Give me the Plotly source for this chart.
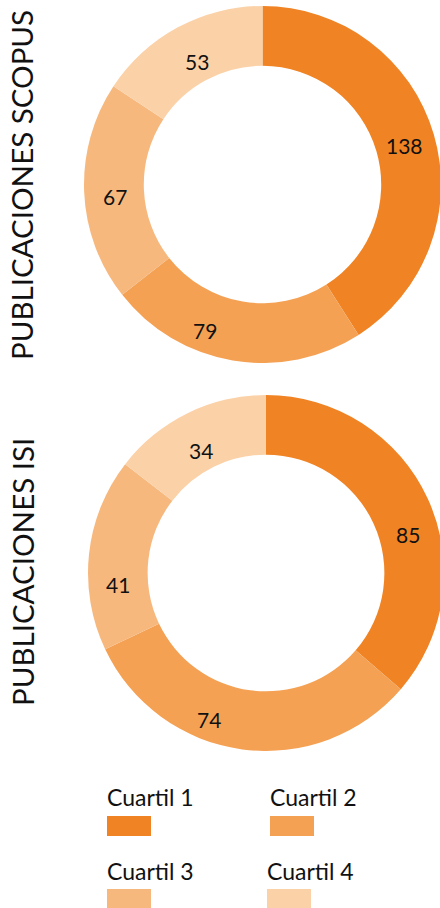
import math
import plotly.graph_objects as go

categories = ["Cuartil 1", "Cuartil 2", "Cuartil 3", "Cuartil 4"]
scopus_values = [138, 79, 67, 53]
isi_values = [85, 74, 41, 34]
chart_titles = ["PUBLICACIONES SCOPUS", "PUBLICACIONES ISI"]
colors = ["#F08323", "#F4A154", "#F7B87E", "#FBD1A8"]

# figure is slightly wider than the 440px window so the second ring is clipped at the right, as in the original
W, H = 446, 908
FONT = "Lato, 'Open Sans', sans-serif"
TXT = "#111111"

# fixed label placement (angle clockwise from 12 o'clock, radius in px), as in the original template
LABEL_ANGLES = [74.8, 201.3, 265.5, 332.0]
LABEL_RADII = [147, 157, 148, 139]

fig = go.Figure()
annotations = []

def pie(values, x0, x1, ytop, ybot):
    fig.add_trace(go.Pie(
        labels=categories, values=values, sort=False, direction="clockwise",
        rotation=0, hole=0.665,
        marker=dict(colors=colors, line=dict(width=0)),
        textinfo="none",
        domain=dict(x=[x0 / W, x1 / W], y=[1 - ybot / H, 1 - ytop / H]),
        showlegend=False, hoverinfo="label+value",
    ))
    cx, cy = (x0 + x1) / 2, (ytop + ybot) / 2
    for v, a, rr in zip(values, LABEL_ANGLES, LABEL_RADII):
        px = cx + rr * math.sin(math.radians(a))
        py = cy - rr * math.cos(math.radians(a))
        annotations.append(dict(text=str(v), x=px / W, y=1 - py / H, xref="paper", yref="paper",
                                showarrow=False, xanchor="center", yanchor="middle",
                                font=dict(family=FONT, size=21, color=TXT)))

pie(scopus_values, 84, 441, 6, 363)
pie(isi_values, 88, 444, 395, 751)

for title, yc in zip(chart_titles, [185, 572]):
    annotations.append(dict(text=title, x=22 / W, y=1 - yc / H, xref="paper", yref="paper",
                            showarrow=False, textangle=-90, xanchor="center", yanchor="middle",
                            font=dict(family=FONT, size=29.5, color=TXT)))

shapes = []
pos = [(107, 797, 816), (270, 797, 816), (107, 871, 889), (267, 871, 889)]
for cat, col, (lx, ty, sy) in zip(categories, colors, pos):
    annotations.append(dict(text=cat, x=(lx - 2) / W, y=1 - ty / H, xref="paper", yref="paper",
                            showarrow=False, xanchor="left", yanchor="middle",
                            font=dict(family=FONT, size=23, color=TXT)))
    shapes.append(dict(type="rect", xref="paper", yref="paper",
                       x0=lx / W, x1=(lx + 44) / W, y0=1 - (sy + 20) / H, y1=1 - sy / H,
                       fillcolor=col, line=dict(width=0)))

fig.update_layout(width=W, height=H, margin=dict(l=0, r=0, t=0, b=0),
                  paper_bgcolor="white", plot_bgcolor="white",
                  annotations=annotations, shapes=shapes)

fig.write_html("out.html", config={"displayModeBar": False},
               post_script="document.body.style.margin='0';document.body.style.overflow='hidden';")
